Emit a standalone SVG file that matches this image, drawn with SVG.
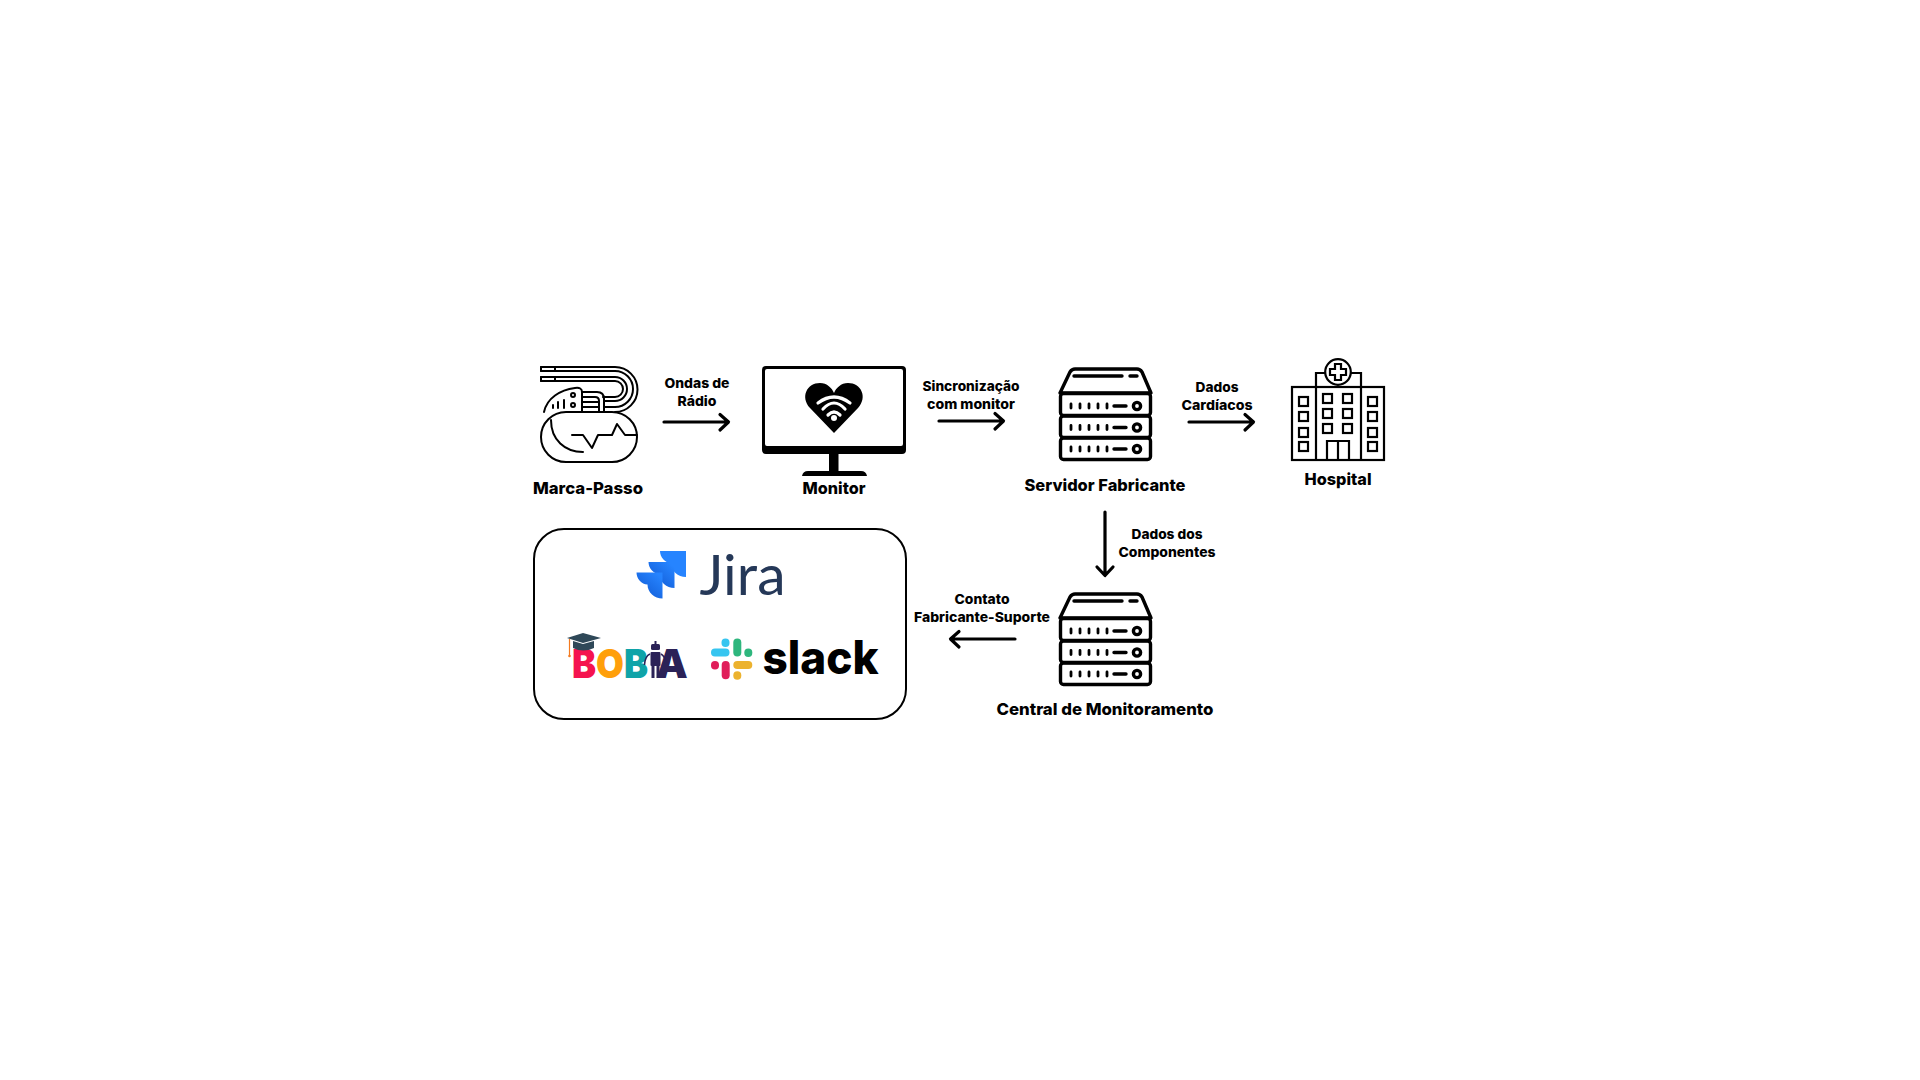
<svg xmlns="http://www.w3.org/2000/svg" xmlns:xlink="http://www.w3.org/1999/xlink" width="1920" height="1080" viewBox="0 0 1920 1080">
<style>
.t{font-family:"Inter","Open Sans","Liberation Sans",sans-serif;font-weight:800;text-anchor:middle;fill:#000}
.lb{font-size:13.5px}
.ti{font-size:16.5px}
.ln{fill:none;stroke:#000;stroke-linecap:round;stroke-linejoin:round}
.pm{stroke-width:2}
.sv{stroke-width:3.4}
.ho{stroke-width:2.2;stroke-linecap:butt;stroke-linejoin:miter}
.arr{fill:none;stroke:#000;stroke-width:3.2;stroke-linecap:round;stroke-linejoin:round}
.wf{fill:none;stroke:#fff;stroke-width:3.2;stroke-linecap:round}
</style>
<defs>
<linearGradient id="jg" x1="1" y1="0" x2="0.3" y2="0.8">
<stop offset="0.15" stop-color="#2684FF"/><stop offset="1" stop-color="#1562DC"/>
</linearGradient>
<path id="jt" d="M0 0H26V26C18 26 11 20 11 12C5 12 0 6 0 0Z"/>
<g id="rack" class="ln sv">
<path d="M1060 393L1070 372Q1072 369 1075 369H1137Q1140 369 1142 372L1151 393Z"/>
<path d="M1074 376H1122M1130 376H1137"/>
<rect x="1060.500" y="393.500" width="90" height="22" rx="3"/>
<rect x="1060.500" y="416" width="90" height="21.500" rx="3"/>
<rect x="1060.500" y="438" width="90" height="21.500" rx="3"/>
<g stroke-width="2.800">
<path d="M1071 404v4M1080 404v4M1089 404v4M1098 404v4M1107 404v4"/>
<path d="M1071 425.500v4M1080 425.500v4M1089 425.500v4M1098 425.500v4M1107 425.500v4"/>
<path d="M1071 447v4M1080 447v4M1089 447v4M1098 447v4M1107 447v4"/>
</g>
<path d="M1114 406H1126M1114 427.500H1126M1114 449H1126"/>
<circle cx="1137" cy="406" r="3.600"/><circle cx="1137" cy="427.500" r="3.600"/><circle cx="1137" cy="449" r="3.600"/>
</g>
</defs>
<rect width="1920" height="1080" fill="#fff"/>

<g id="connectors">
<path class="arr" d="M664 422H728M720 414.500L728.500 422L720 430"/>
<path class="arr" d="M939 421H1003M995 413.500L1003.500 421L995 429"/>
<path class="arr" d="M1189 422H1253M1245 414.500L1253.500 422L1245 430"/>
<path class="arr" d="M1105 512V575M1097 567L1105 575.500L1113 567"/>
<path class="arr" d="M1015 639H951M959 631.500L950.500 639L959 647"/>
<text class="t lb" x="697" y="388" textLength="65" lengthAdjust="spacingAndGlyphs">Ondas de</text>
<text class="t lb" x="697" y="406" textLength="39" lengthAdjust="spacingAndGlyphs">Rádio</text>
<text class="t lb" x="971" y="391" textLength="97" lengthAdjust="spacingAndGlyphs">Sincronização</text>
<text class="t lb" x="971" y="409" textLength="88" lengthAdjust="spacingAndGlyphs">com monitor</text>
<text class="t lb" x="1217" y="392" textLength="43" lengthAdjust="spacingAndGlyphs">Dados</text>
<text class="t lb" x="1217" y="410" textLength="71" lengthAdjust="spacingAndGlyphs">Cardíacos</text>
<text class="t lb" x="1167" y="539" textLength="71" lengthAdjust="spacingAndGlyphs">Dados dos</text>
<text class="t lb" x="1167" y="557" textLength="97" lengthAdjust="spacingAndGlyphs">Componentes</text>
<text class="t lb" x="982" y="604" textLength="55" lengthAdjust="spacingAndGlyphs">Contato</text>
<text class="t lb" x="982" y="622" textLength="136" lengthAdjust="spacingAndGlyphs">Fabricante-Suporte</text>
</g>

<g id="marca-passo">
<g class="ln pm">
<rect x="541" y="412" width="96" height="50" rx="25"/>
<path d="M541 367H615A22.500 22.500 0 0 1 615 412M541 371H615A18 18 0 0 1 615 407H604M541 377H615A12 12 0 0 1 615 401H604M541 381H615A8 8 0 0 1 615 397H603"/>
<path d="M541 367V371M541 377V381M555 367V371M555 377V381"/>
<path d="M544 412C547 398 560 390 575 388Q582 387 582 392V412"/>
<path d="M582 392H597Q604 392 604 399V412M582 397H595Q599 397 599 401V412M582 402H599M582 407H599"/>
<circle cx="573" cy="395" r="2"/><circle cx="573" cy="405" r="2"/>
<path d="M553 405V408M558 402V408M564 400V408"/>
<path d="M551 420C551 440 565 452 583 452"/>
<path d="M572 435H583L592 448L598 435H612L617 424L625 435H637"/>
</g>
<text class="t ti" x="588" y="494" textLength="110" lengthAdjust="spacingAndGlyphs">Marca-Passo</text>
</g>

<g id="monitor">
<path d="M766 366H902Q906 366 906 370V450Q906 454 902 454H766Q762 454 762 450V370Q762 366 766 366ZM767 369Q765 369 765 371V444Q765 446 767 446H901Q903 446 903 444V371Q903 369 901 369Z" fill="#000" fill-rule="evenodd"/>
<rect x="829" y="454" width="9.500" height="18" fill="#000"/>
<path d="M802 476Q803 471 808 471H861Q866 471 867 476Z" fill="#000"/>
<path d="M834 433L810 408C800 397 807 383 820 383C827 383 832 388 834 393C836 388 841 383 848 383C861 383 868 397 858 408Z" fill="#000"/>
<path class="wf" d="M818 403Q834 391 850 403M823 409Q834 397 845 409M828 415Q834 409 840 415"/>
<circle cx="834" cy="418" r="3" fill="#fff"/>
<text class="t ti" x="834" y="494" textLength="63" lengthAdjust="spacingAndGlyphs">Monitor</text>
</g>

<g id="servidor-fabricante">
<use href="#rack" xlink:href="#rack"/>
<text class="t ti" x="1105" y="491" textLength="161" lengthAdjust="spacingAndGlyphs">Servidor Fabricante</text>
</g>

<g id="hospital">
<g class="ln ho">
<rect x="1292" y="387" width="92" height="73"/>
<path d="M1316 460V373H1326M1351 373H1361V460"/>
<circle cx="1338" cy="372" r="12.800" fill="#fff"/>
<path d="M1335 364H1341V369H1346V375H1341V380H1335V375H1330V369H1335Z"/>
<rect x="1299" y="397" width="9" height="9"/><rect x="1299" y="412" width="9" height="9"/><rect x="1299" y="428" width="9" height="9"/><rect x="1299" y="442" width="9" height="9"/>
<rect x="1368" y="397" width="9" height="9"/><rect x="1368" y="412" width="9" height="9"/><rect x="1368" y="428" width="9" height="9"/><rect x="1368" y="442" width="9" height="9"/>
<rect x="1323" y="394" width="9" height="9"/><rect x="1343" y="394" width="9" height="9"/>
<rect x="1323" y="409" width="9" height="9"/><rect x="1343" y="409" width="9" height="9"/>
<rect x="1323" y="424" width="9" height="9"/><rect x="1343" y="424" width="9" height="9"/>
<path d="M1327 460V441H1349V460M1338 441V460"/>
</g>
<text class="t ti" x="1338" y="485" textLength="67" lengthAdjust="spacingAndGlyphs">Hospital</text>
</g>

<g id="central-de-monitoramento">
<use href="#rack" xlink:href="#rack" y="225"/>
<text class="t ti" x="1105" y="715" textLength="217" lengthAdjust="spacingAndGlyphs">Central de Monitoramento</text>
</g>

<g id="ferramentas">
<rect x="534" y="529" width="372" height="190" rx="30" fill="#fff" stroke="#000" stroke-width="2"/>
<g id="jira">
<use href="#jt" xlink:href="#jt" x="660" y="551" fill="#2684FF"/>
<use href="#jt" xlink:href="#jt" x="648.500" y="562" fill="url(#jg)"/>
<use href="#jt" xlink:href="#jt" x="636.500" y="572.500" fill="url(#jg)"/>
<text x="742.500" y="595" font-family="Lato,'Open Sans',sans-serif" font-size="56" font-weight="400" text-anchor="middle" fill="#253858" textLength="86" lengthAdjust="spacingAndGlyphs">Jira</text>
</g>
<g id="bobia">
<text x="610" y="678" font-family="Inter,'Open Sans',sans-serif" font-size="40" font-weight="900" text-anchor="middle" textLength="76" lengthAdjust="spacingAndGlyphs"><tspan fill="#F5134F">B</tspan><tspan fill="#FF9F0A">O</tspan><tspan fill="#0FA3A8">B</tspan></text>
<text x="672" y="678" font-family="Inter,'Open Sans',sans-serif" font-size="40" font-weight="900" text-anchor="middle" fill="#2B2257">A</text>
<path d="M567 638L583 633L601 638L583 643Z" fill="#2F4858"/>
<path d="M573 641V648Q583 653 594 648V641L583 644Z" fill="#2F4858"/>
<path d="M569.500 639V656" stroke="#F47B20" stroke-width="1.200" fill="none"/>
<circle cx="569.500" cy="656" r="1.300" fill="#F47B20"/>
<g fill="#2B2257">
<rect x="651" y="644" width="9" height="6" rx="1.500"/>
<rect x="654.500" y="641" width="2" height="3"/>
<rect x="650.500" y="652" width="10" height="14" rx="1"/>
<rect x="651.500" y="666" width="3" height="12"/>
<rect x="656.500" y="666" width="3" height="12"/>
</g>
<path d="M650 654Q645 656 644.500 665M661 654Q665 656 665.500 663" fill="none" stroke="#2B2257" stroke-width="1.500"/>
</g>
<g id="slack">
<g fill="none" stroke-width="8" stroke-linecap="round">
<path d="M715 652.500H725.500" stroke="#36C5F0"/>
<path d="M725.500 642.500V643" stroke="#36C5F0"/>
<path d="M737.300 642.500V652.500" stroke="#2EB67D"/>
<path d="M748.300 652.500V653" stroke="#2EB67D"/>
<path d="M737.300 665H748.300" stroke="#ECB22E"/>
<path d="M737.300 675.300V675.800" stroke="#ECB22E"/>
<path d="M725.700 665V675.300" stroke="#E01E5A"/>
<path d="M715 665V665.500" stroke="#E01E5A"/>
</g>
<text x="820.500" y="674" font-family="Inter,'Open Sans',sans-serif" font-size="46" font-weight="800" text-anchor="middle" fill="#000" textLength="116" lengthAdjust="spacingAndGlyphs">slack</text>
</g>
</g>
</svg>
